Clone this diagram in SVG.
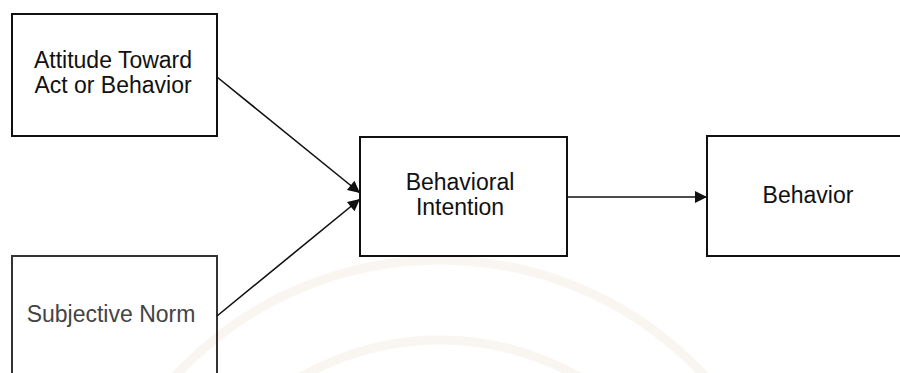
<svg xmlns="http://www.w3.org/2000/svg" width="900" height="373" viewBox="0 0 900 373">
  <style>
    .box { fill: none; stroke: #111; stroke-width: 2; }
    .lbl { font-family: "Liberation Sans", Arial, sans-serif; font-size: 23px; fill: #111; text-anchor: middle; }
    .wire { fill: none; stroke: #111; stroke-width: 1.6; }
    .seal { fill: none; stroke: #f1e9dd; stroke-width: 9; opacity: 0.45; }
  </style>
  <defs>
    <marker id="head" viewBox="0 0 10 10" refX="10" refY="5" markerWidth="15" markerHeight="12" markerUnits="userSpaceOnUse" orient="auto">
      <path d="M0,0 L10,5 L0,10 z" fill="#111"/>
    </marker>
  </defs>

  <rect width="900" height="373" fill="#ffffff"/>

  <!-- faint background seal -->
  <g id="seal">
    <circle class="seal" cx="440" cy="620" r="360"/>
    <circle class="seal" cx="440" cy="620" r="280"/>
  </g>

  <g id="attitude">
    <rect class="box" x="12" y="14" width="205" height="122"/>
    <text class="lbl" x="113" y="68">Attitude Toward</text>
    <text class="lbl" x="113" y="93">Act or Behavior</text>
  </g>

  <g id="norm">
    <rect class="box" x="12" y="256" width="205" height="130" style="stroke:#333"/>
    <text class="lbl" x="111" y="322" style="fill:#444">Subjective Norm</text>
  </g>

  <g id="intention">
    <rect class="box" x="360" y="137" width="207" height="119"/>
    <text class="lbl" x="460" y="190">Behavioral</text>
    <text class="lbl" x="460" y="215">Intention</text>
  </g>

  <g id="behavior">
    <rect class="box" x="707" y="136" width="210" height="120"/>
    <text class="lbl" x="808" y="203">Behavior</text>
  </g>

  <g id="connectors">
    <line class="wire" x1="217" y1="77" x2="360" y2="193" marker-end="url(#head)"/>
    <line class="wire" x1="217" y1="316" x2="360" y2="199" marker-end="url(#head)"/>
    <line class="wire" x1="567" y1="197" x2="707" y2="197" marker-end="url(#head)"/>
  </g>
</svg>
